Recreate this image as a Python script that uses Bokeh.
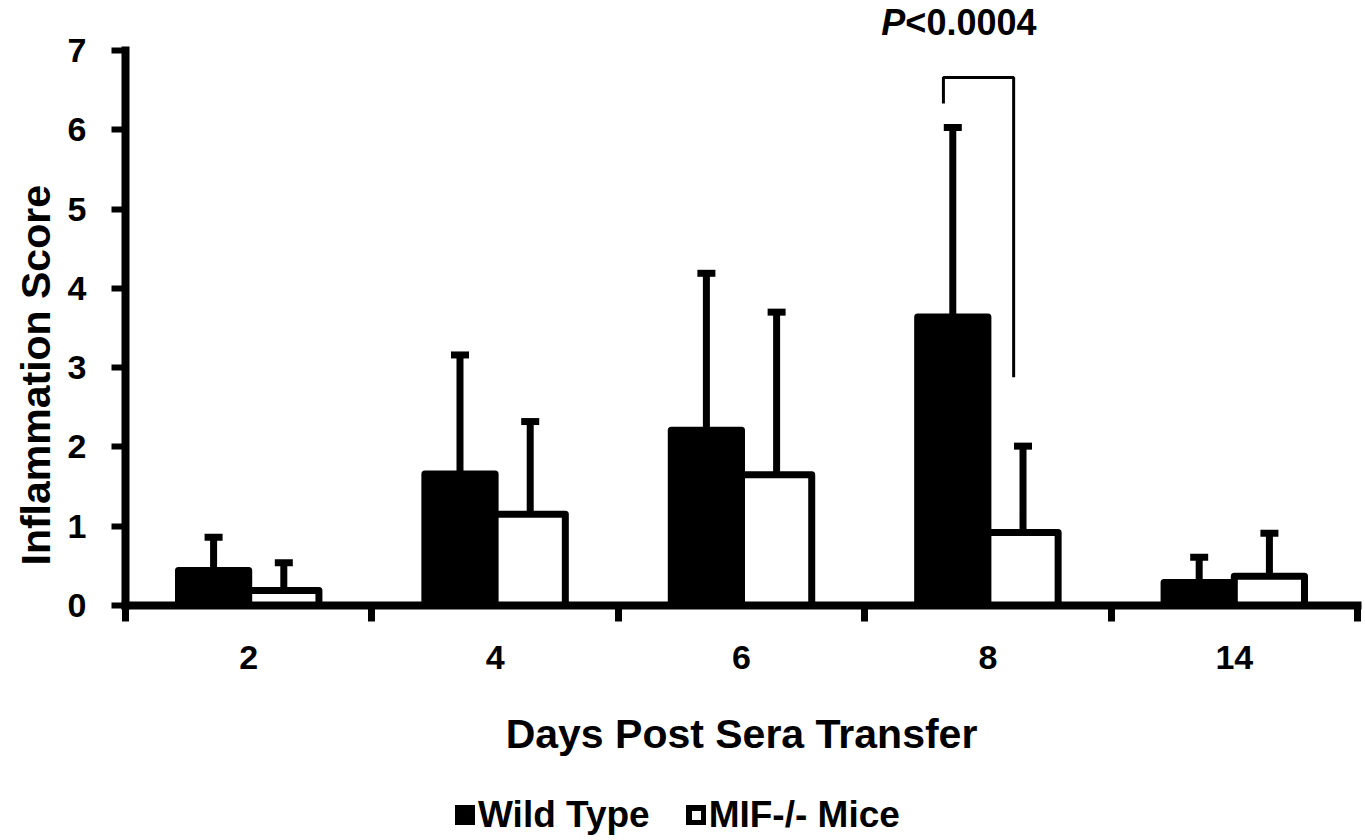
from bokeh.plotting import figure
from bokeh.layouts import column
from bokeh.models import (ColumnDataSource, FixedTicker, Range1d, Legend, LegendItem, Title)
from bokeh.embed import file_html
from bokeh.resources import INLINE
from bokeh.core.properties import value

# ---- data ----
days = ["2", "4", "6", "8", "14"]
wt_mean = [0.44, 1.66, 2.21, 3.64, 0.29]
wt_err = [0.42, 1.50, 1.98, 2.39, 0.32]
mif_mean = [0.19, 1.15, 1.65, 0.92, 0.37]
mif_err = [0.35, 1.17, 2.05, 1.09, 0.54]
series_names = ["Wild Type", "MIF-/- Mice"]
y_ticks = [0, 1, 2, 3, 4, 5, 6, 7]
sig_index = 3
sig_text = ["P", "<0.0004"]
x_title = "Days Post Sera Transfer"
y_title = "Inflammation Score"

# ---- layout / style ----
FONT = "Liberation Sans"
W = 1363
H1 = 770
H2 = 68
n = len(days)
centers = [i + 0.5 for i in range(n)]
bw = 0.285
wt_x = [c - bw / 2 for c in centers]
mif_x = [c + bw / 2 for c in centers]
Y_TOP = 7 * 597 / 555

p = figure(width=W, height=H1, output_backend="svg", toolbar_location=None,
           x_range=Range1d(0, n), y_range=Range1d(0, Y_TOP),
           min_border_left=125, min_border_right=6, min_border_top=8,
           min_border_bottom=H1 - 605)
p.outline_line_color = None
p.xgrid.visible = False
p.ygrid.visible = False
p.background_fill_color = "white"
p.border_fill_color = "white"

src_wt = ColumnDataSource(dict(x=wt_x, top=wt_mean,
                               up=[m + e for m, e in zip(wt_mean, wt_err)]))
src_mif = ColumnDataSource(dict(x=mif_x, top=mif_mean,
                                up=[m + e for m, e in zip(mif_mean, mif_err)]))
fills = {"wt": "black", "mif": "white"}


def bars(fig, src, fill, visible=True):
    return fig.vbar(x="x", top="top", bottom=0, width=bw, source=src,
                    fill_color=fill, line_color="black", line_width=7,
                    line_join="round", visible=visible)


def errs(fig, src):
    fig.segment(x0="x", y0="top", x1="x", y1="up", source=src,
                line_color="black", line_width=7)
    fig.rect(x="x", y="up", width=18, height=7, width_units="screen",
             height_units="screen", source=src, fill_color="black", line_color=None)


bars(p, src_wt, fills["wt"])
errs(p, src_wt)
bars(p, src_mif, fills["mif"])
errs(p, src_mif)

# significance bracket
bx_l = wt_x[sig_index] - 0.038
bx_r = mif_x[sig_index] - 0.038
b_top = 6.66
b_left_bottom = wt_mean[sig_index] + wt_err[sig_index] + 0.30
b_right_bottom = mif_mean[sig_index] + mif_err[sig_index] + 0.87
p.line(x=[bx_l, bx_l, bx_r, bx_r], y=[b_left_bottom, b_top, b_top, b_right_bottom],
       line_color="black", line_width=3)

tx = centers[sig_index] - 0.335
ty = 7.35
p.text(x=[tx], y=[ty], text=[sig_text[0]], text_align="right",
       text_baseline="alphabetic", text_font=value(FONT), text_font_size="36px",
       text_font_style="bold italic", text_color="black")
p.text(x=[tx], y=[ty], text=[sig_text[1]], text_align="left",
       text_baseline="alphabetic", text_font=value(FONT), text_font_size="36px",
       text_font_style="bold", text_color="black")

# axes
xa = p.xaxis[0]
xa.ticker = FixedTicker(ticks=centers, minor_ticks=list(range(n + 1)))
xa.major_label_overrides = {c: d for c, d in zip(centers, days)}
xa.bounds = (0, n)
xa.axis_line_width = 8
xa.axis_line_cap = "square"
xa.major_tick_out = 0
xa.major_tick_in = 0
xa.minor_tick_out = 16
xa.minor_tick_in = 0
xa.minor_tick_line_width = 7
xa.minor_tick_line_color = "black"
xa.major_label_standoff = 24
xa.major_label_text_font = FONT
xa.major_label_text_font_style = "bold"
xa.major_label_text_font_size = "34px"
xa.major_label_text_color = "black"
xa.axis_label = x_title
xa.axis_label_text_font = FONT
xa.axis_label_text_font_style = "bold"
xa.axis_label_text_font_size = "41px"
xa.axis_label_text_color = "black"
xa.axis_label_standoff = 39

ya = p.yaxis[0]
ya.ticker = FixedTicker(ticks=y_ticks, minor_ticks=[])
ya.bounds = (0, 7)
ya.axis_line_width = 8
ya.axis_line_cap = "square"
ya.major_tick_out = 14
ya.major_tick_in = 0
ya.major_tick_line_width = 6
ya.minor_tick_out = 0
ya.minor_tick_in = 0
ya.major_label_standoff = 25
ya.major_label_text_font = FONT
ya.major_label_text_font_style = "bold"
ya.major_label_text_font_size = "34px"
ya.major_label_text_color = "black"

# y-axis title as a side title so it can sit low like the reference
yt = Title(text=y_title, align="left", offset=40, standoff=12,
           text_font=FONT, text_font_style="bold", text_font_size="41px",
           text_color="black")
p.add_layout(yt, "left")

# ---- legend strip (its own small figure, same series styles) ----
q = figure(width=W, height=H2, output_backend="svg", toolbar_location=None,
           x_range=Range1d(1000, 1000 + 1232), y_range=Range1d(1000, 1001),
           min_border_left=0, min_border_right=0, min_border_top=0,
           min_border_bottom=0, x_axis_type=None, y_axis_type=None)
q.outline_line_color = None
q.xgrid.visible = False
q.ygrid.visible = False
q_wt = bars(q, src_wt, fills["wt"], visible=False)
q_mif = bars(q, src_mif, fills["mif"], visible=False)

legend = Legend(items=[LegendItem(label=series_names[0], renderers=[q_wt]),
                       LegendItem(label=series_names[1], renderers=[q_mif])],
                orientation="horizontal", location=(330, 2),
                padding=0, margin=0, border_line_color=None,
                background_fill_alpha=0, glyph_width=20, glyph_height=20,
                label_standoff=3, spacing=36,
                label_text_font=FONT, label_text_font_style="bold",
                label_text_font_size="37px", label_text_color="black")
q.add_layout(legend, "center")

layout = column(p, q, spacing=0)
open("out.html", "w").write(file_html(layout, INLINE))
